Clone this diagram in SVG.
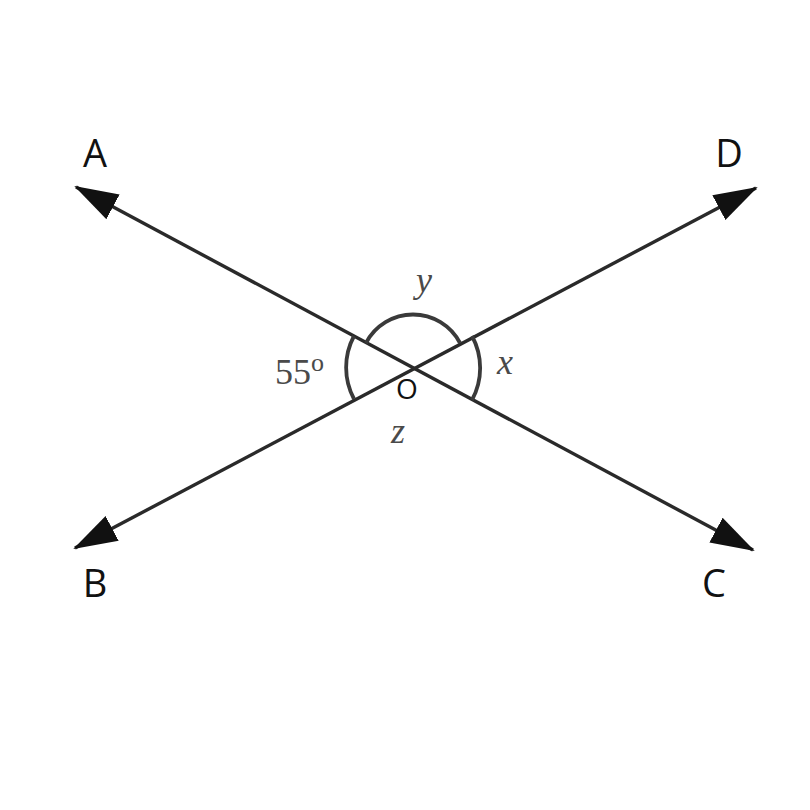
<svg xmlns="http://www.w3.org/2000/svg" width="810" height="810" viewBox="0 0 810 810">
<style>
.ln{stroke:#2a2a2a;stroke-width:3.4;fill:none}
.arc{stroke:#3a3a3a;stroke-width:3.8;fill:none}
.pt{font-family:"Open Sans","Noto Sans",sans-serif;font-size:38px;fill:#111}
.ang{font-family:"Liberation Serif","DejaVu Serif",serif;font-size:36px;fill:#4a4a4a}
</style>
<defs>
<marker id="ah" markerUnits="userSpaceOnUse" markerWidth="44" markerHeight="30" viewBox="0 0 44 30" refX="42" refY="15" orient="auto-start-reverse">
<path d="M0,1 L44,15 L0,29 z" fill="#111"/>
</marker>
</defs>
<rect width="810" height="810" fill="#fff"/>
<g id="connectors">
<line class="ln" x1="76" y1="187" x2="753" y2="550" marker-start="url(#ah)" marker-end="url(#ah)"/>
<line class="ln" x1="75" y1="548" x2="756" y2="188" marker-start="url(#ah)" marker-end="url(#ah)"/>
</g>
<g id="angles">
<path class="arc" d="M354,336 A67,67 0 0 0 354,399"/>
<path class="arc" d="M366,343 A53,53 0 0 1 460,343"/>
<path class="arc" d="M472,336 A67,67 0 0 1 472,400"/>
</g>
<g id="labels">
<text class="pt" x="95" y="167" text-anchor="middle">A</text>
<text class="pt" x="729" y="167" text-anchor="middle">D</text>
<text class="pt" x="95" y="597" text-anchor="middle">B</text>
<text class="pt" x="714" y="597" text-anchor="middle">C</text>
<text x="407" y="399" text-anchor="middle" font-family="Open Sans, Noto Sans, sans-serif" font-size="28" fill="#111">O</text>
<text class="ang" x="275" y="384">55<tspan font-size="26" dy="-13">o</tspan></text>
<text class="ang" x="424" y="292" text-anchor="middle" font-style="italic">y</text>
<text class="ang" x="505" y="374" text-anchor="middle" font-style="italic">x</text>
<text class="ang" x="398" y="443" text-anchor="middle" font-style="italic">z</text>
</g>
</svg>
